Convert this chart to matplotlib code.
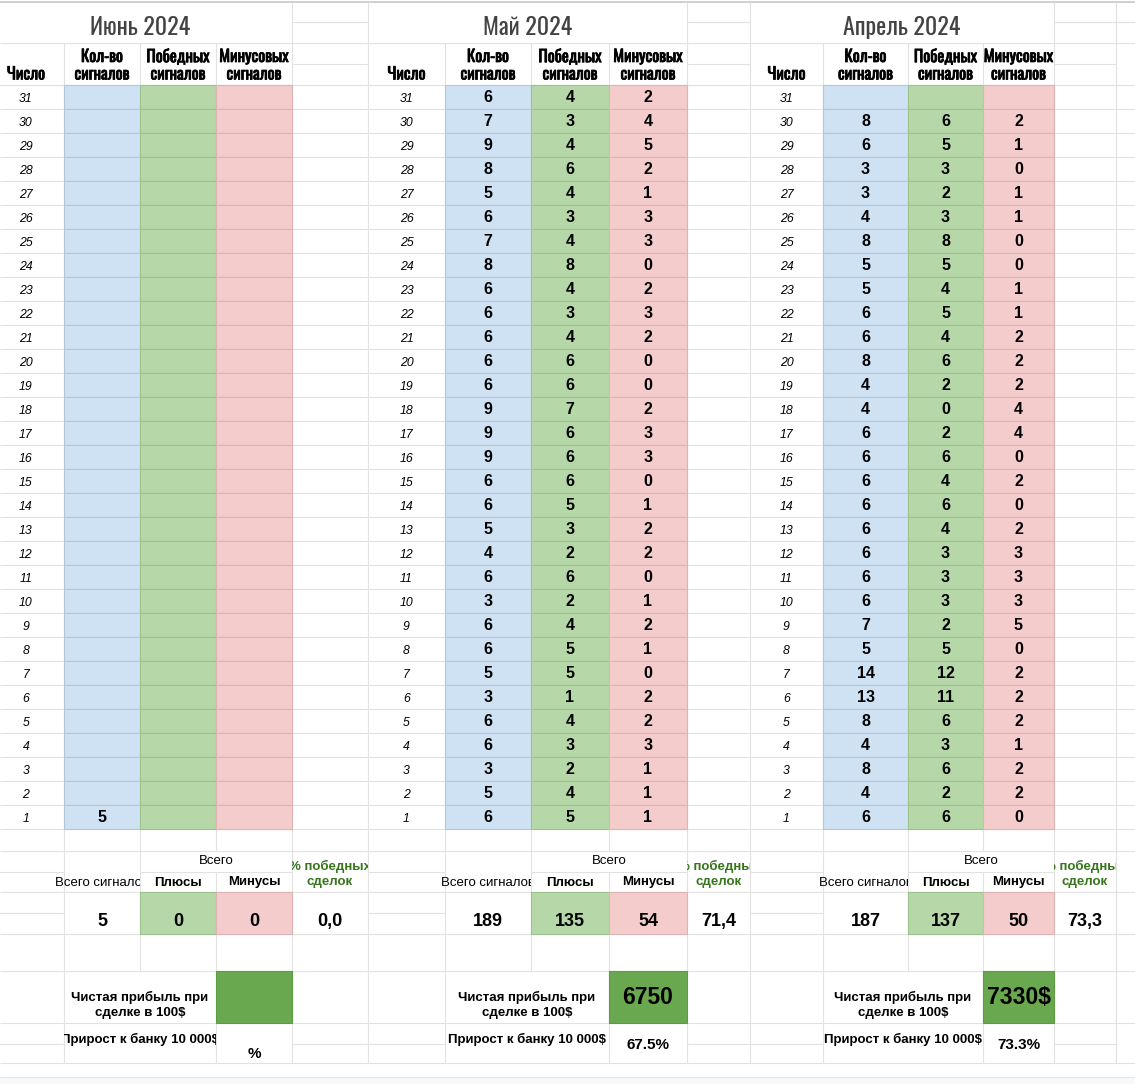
import matplotlib
matplotlib.use('Agg')
import matplotlib.pyplot as plt
from matplotlib.patches import Rectangle
from matplotlib.transforms import Bbox, TransformedBbox
from matplotlib import font_manager as fm
from matplotlib import patheffects as pe

# ---------------- data ----------------
months = ['Июнь 2024', 'Май 2024', 'Апрель 2024']
days = list(range(31, 0, -1))
col_headers = ['Число', 'Кол-во\nсигналов', 'Победных\nсигналов', 'Минусовых\nсигналов']

june_total = [None] * 30 + [5]
june_wins = [None] * 31
june_losses = [None] * 31

may_total = [6, 7, 9, 8, 5, 6, 7, 8, 6, 6, 6, 6, 6, 9, 9, 9, 6, 6, 5, 4, 6, 3, 6, 6, 5, 3, 6, 6, 3, 5, 6]
may_wins = [4, 3, 4, 6, 4, 3, 4, 8, 4, 3, 4, 6, 6, 7, 6, 6, 6, 5, 3, 2, 6, 2, 4, 5, 5, 1, 4, 3, 2, 4, 5]
may_losses = [2, 4, 5, 2, 1, 3, 3, 0, 2, 3, 2, 0, 0, 2, 3, 3, 0, 1, 2, 2, 0, 1, 2, 1, 0, 2, 2, 3, 1, 1, 1]

april_total = [None, 8, 6, 3, 3, 4, 8, 5, 5, 6, 6, 8, 4, 4, 6, 6, 6, 6, 6, 6, 6, 6, 7, 5, 14, 13, 8, 4, 8, 4, 6]
april_wins = [None, 6, 5, 3, 2, 3, 8, 5, 4, 5, 4, 6, 2, 0, 2, 6, 4, 6, 4, 3, 3, 3, 2, 5, 12, 11, 6, 3, 6, 2, 6]
april_losses = [None, 2, 1, 0, 1, 1, 0, 0, 1, 1, 2, 2, 2, 4, 4, 0, 2, 0, 2, 3, 3, 3, 5, 0, 2, 2, 2, 1, 2, 2, 0]

total_signals = ['5', '189', '187']
total_plus = ['0', '135', '137']
total_minus = ['0', '54', '50']
win_pct = ['0,0', '71,4', '73,3']
net_profit = ['', '6750', '7330$']
bank_growth = ['%', '67.5%', '73.3%']

series = [(june_total, june_wins, june_losses),
          (may_total, may_wins, may_losses),
          (april_total, april_wins, april_losses)]

# ---------------- layout ----------------
W, H = 1135, 1084
blocks = [[-12, 64, 140, 216, 292, 368],
          [368, 445, 531, 609, 687, 750],
          [750, 823, 908, 983, 1054, 1116]]
next_block = [1116, 1192]
growth_y = [1053, 1044, 1044]

ROW0, ROWH = 85, 24
row_edges = [ROW0 + ROWH * i for i in range(32)]
B = [829, 851, 872, 892, 913, 934, 971, 1023, 1044, 1063, 1077]

GRID = '#e2e2e2'
BLUE, BLUE_E = '#cfe2f3', '#b2c7db'
GREEN, GREEN_E = '#b6d7a8', '#9dc38c'
PINK, PINK_E = '#f4cccc', '#ddb3b3'
DGREEN, DGREEN_E = '#6aa84f', '#5c9a43'
LW = 0.8

# fonts
ttf = fm.fontManager.ttflist
names = {f.name for f in ttf}
narrow_kw = None
for cand in ['Oswald', 'Liberation Sans Narrow', 'Roboto Condensed', 'Open Sans Condensed', 'Arial Narrow']:
    if cand in names:
        narrow_kw = dict(family=cand)
        break
if narrow_kw is None:
    if any(f.name == 'DejaVu Sans' and f.stretch == 'condensed' for f in ttf):
        narrow_kw = dict(family='DejaVu Sans', fontstretch='condensed')
    else:
        narrow_kw = dict(family='Liberation Sans')
ARIAL = 'Liberation Sans' if 'Liberation Sans' in names else 'DejaVu Sans'


def has_bold(family):
    for f in ttf:
        if f.name == family:
            w = f.weight
            if isinstance(w, str):
                w = fm.weight_dict.get(w, 400)
            if w >= 600:
                return True
    return False


hdr_kw = dict(narrow_kw)
hdr_kw['fontweight'] = 'bold'
if not has_bold(narrow_kw['family']):
    hdr_kw['path_effects'] = [pe.withStroke(linewidth=0.55, foreground='black')]

fig = plt.figure(figsize=(W / 100, H / 100), dpi=100)
ax = fig.add_axes([0, 0, 1, 1])
ax.set_xlim(0, W)
ax.set_ylim(H, 0)
ax.axis('off')


def hl(y, x0, x1, c=GRID, z=1, lw=LW):
    ax.hlines(y, x0, x1, colors=c, linewidth=lw, zorder=z)


def vl(x, y0, y1, c=GRID, z=1, lw=LW):
    ax.vlines(x, y0, y1, colors=c, linewidth=lw, zorder=z)


def cell(x0, y0, x1, y1, fc, ec):
    ax.add_patch(Rectangle((x0, y0), x1 - x0, y1 - y0, facecolor=fc,
                           edgecolor=ec, linewidth=LW, zorder=2))


def txt(x, y, s, clip=None, **kw):
    base = dict(ha='center', va='center', family=ARIAL, color='black', zorder=5)
    base.update(kw)
    t = ax.text(x, y, s, **base)
    if clip is not None:
        x0, y0, x1, y1 = clip
        t.set_clip_box(TransformedBbox(Bbox([[x0, y0], [x1, y1]]), ax.transData))
        t.set_clip_on(True)
    return t


# background bottom strip
ax.add_patch(Rectangle((0, B[-1]), W, H - B[-1], facecolor='#f8f9fa', edgecolor='none', zorder=0))
hl(B[-1], 0, W, c='#e6e6e6')

# full-width horizontals
hl(2, 0, W, c='#c8c8c8', lw=1.2)
for y in [43, 85] + row_edges + [B[1], B[3], B[5], B[6], B[7], B[9]]:
    hl(y, 0, W)

for bi, e in enumerate(blocks):
    e0, e1, e2, e3, e4, e5 = e
    # title rows
    vl(e4, 2, 43); vl(e5, 2, 43)
    hl(22, e4, e5)
    txt((e0 + e4) / 2, 27.5, months[bi], color='#434343', fontsize=17.3, **narrow_kw)
    # header
    for x in [e1, e2, e3, e4, e5]:
        vl(x, 43, 85)
    hl(64, e4, e5)
    txt((e0 + e1) / 2, 74, col_headers[0], fontsize=11.8, **hdr_kw)
    for k, (a, b) in enumerate([(e1, e2), (e2, e3), (e3, e4)]):
        l1, l2 = col_headers[k + 1].split('\n')
        txt((a + b) / 2, 56.5, l1, fontsize=11.8, **hdr_kw)
        txt((a + b) / 2, 74, l2, fontsize=11.8, **hdr_kw)
    # data area
    for x in [e1, e2, e3, e4, e5]:
        vl(x, 85, B[0])
    tot, win, los = series[bi]
    for i, d in enumerate(days):
        y0, y1 = row_edges[i], row_edges[i + 1]
        yc = (y0 + y1) / 2
        cell(e1, y0, e2, y1, BLUE, BLUE_E)
        cell(e2, y0, e3, y1, GREEN, GREEN_E)
        cell(e3, y0, e4, y1, PINK, PINK_E)
        txt((e0 + e1) / 2, yc + 2.5, str(d), fontsize=8.8, style='italic')
        for (a, b), vals in zip([(e1, e2), (e2, e3), (e3, e4)], [tot, win, los]):
            if vals[i] is not None:
                txt((a + b) / 2, yc + 0.5, str(vals[i]), fontsize=11.5, fontweight='bold')
    # bottom section verticals
    vl(e1, B[0], B[9]); vl(e4, B[0], B[9]); vl(e5, B[0], B[9])
    vl(e2, B[0], B[6])
    vl(e3, B[0], B[1]); vl(e3, B[2], B[9])
    # partial horizontals
    hl(B[2], e0, e1); hl(B[2], e2, e4)
    hl(B[4], e0, e1)
    hl(B[8], e0, e1); hl(B[8], e4, e5)
    # colored summary cells
    cell(e2, B[3], e3, B[5], GREEN, GREEN_E)
    cell(e3, B[3], e4, B[5], PINK, PINK_E)
    cell(e3, B[6], e4, B[7], DGREEN, DGREEN_E)
    # summary text
    txt((e2 + e4) / 2, 861.5, 'Всего', fontsize=9.5)
    txt((e1 + e2) / 2, 882.5, 'Всего сигналов', fontsize=9.5, clip=(e0 - 80, B[1], e2, B[3]))
    txt((e2 + e3) / 2, 882.5, 'Плюсы', fontsize=9.5, fontweight='bold')
    txt((e3 + e4) / 2, 882.5, 'Минусы', fontsize=9.5, fontweight='bold')
    txt((e4 + e5) / 2, 866.5, '% победных', fontsize=9.5, fontweight='bold',
        color='#38761d', clip=(e4, B[1], e5, B[3]))
    txt((e4 + e5) / 2, 882.5, 'сделок', fontsize=9.5, fontweight='bold',
        color='#38761d', clip=(e4, B[1], e5, B[3]))
    txt((e1 + e2) / 2, 921.5, total_signals[bi], fontsize=13, fontweight='bold')
    txt((e2 + e3) / 2, 921.5, total_plus[bi], fontsize=13, fontweight='bold')
    txt((e3 + e4) / 2, 921.5, total_minus[bi], fontsize=13, fontweight='bold')
    txt((e4 + e5) / 2, 921.5, win_pct[bi], fontsize=13, fontweight='bold')
    txt((e1 + e3) / 2, 997, 'Чистая прибыль при', fontsize=9.5, fontweight='bold')
    txt((e1 + e3) / 2, 1013, 'сделке в 100$', fontsize=9.5, fontweight='bold')
    if net_profit[bi]:
        txt((e3 + e4) / 2, 998, net_profit[bi], fontsize=16.5, fontweight='bold')
    txt((e1 + e3) / 2, 1039.5, 'Прирост к банку 10 000$', fontsize=9.5, fontweight='bold',
        clip=(e1, B[7], e3, B[9]))
    txt((e3 + e4) / 2, growth_y[bi] + 1, bank_growth[bi], fontsize=11, fontweight='bold')

# next (cut-off) block: only its left edge is visible in the reference
nx = next_block[0]
vl(nx, 2, B[9])
txt((next_block[0] + next_block[1]) / 2, 74, 'Число', fontsize=11.8, **hdr_kw)
hl(22, nx, W)

fig.savefig('out.png', dpi=100)
